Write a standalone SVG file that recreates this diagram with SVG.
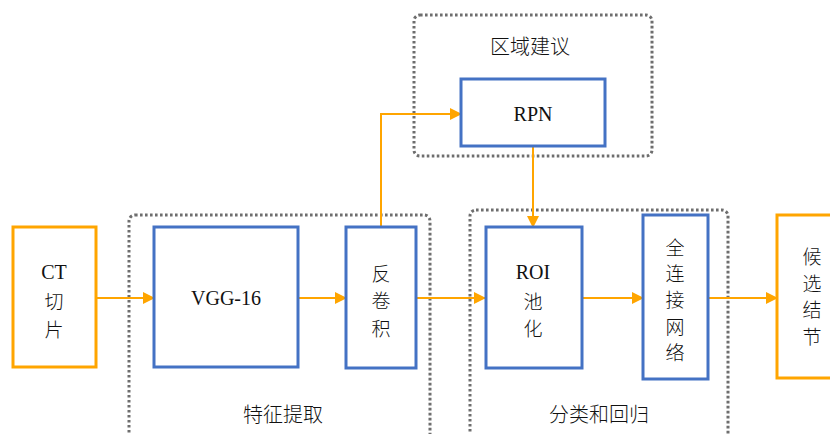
<svg xmlns="http://www.w3.org/2000/svg" width="830" height="434" viewBox="0 0 830 434">
<style>
.grp{fill:none;stroke:#6e6e6e;stroke-width:3;stroke-dasharray:2.6 2.4}
.blue{fill:#fff;stroke:#4472C4;stroke-width:3}
.orange{fill:#fff;stroke:#FFA500;stroke-width:3}
.t{font-family:"Liberation Serif","Noto Sans CJK SC",serif;font-size:20px;fill:#111;text-anchor:middle;dominant-baseline:central}
.c{font-family:"Noto Sans CJK SC","Liberation Serif",sans-serif;font-size:19px;font-weight:300;fill:#111;text-anchor:middle;dominant-baseline:central}
.g{font-size:20px}
.con{fill:none;stroke:#FFA500;stroke-width:2}
</style>
<defs>
<marker id="ah" markerWidth="12" markerHeight="12" refX="11" refY="6" orient="auto" markerUnits="userSpaceOnUse">
<path d="M0,0 L12,6 L0,12 Z" fill="#FFA500"/>
</marker>
</defs>
<g id="group-feature">
<rect class="grp" x="129" y="215" width="301" height="240" rx="6"/>
<text class="c g" x="283" y="413">特征提取</text>
</g>
<g id="group-region">
<rect class="grp" x="414" y="15" width="238" height="141" rx="6"/>
<text class="c g" x="530" y="45">区域建议</text>
</g>
<g id="group-cls">
<rect class="grp" x="470" y="210" width="258" height="245" rx="6"/>
<text class="c g" x="599" y="413">分类和回归</text>
</g>
<g id="connectors">
<line class="con" x1="97" y1="298" x2="154" y2="298" marker-end="url(#ah)"/>
<line class="con" x1="298" y1="298" x2="346" y2="298" marker-end="url(#ah)"/>
<line class="con" x1="417" y1="298" x2="485" y2="298" marker-end="url(#ah)"/>
<line class="con" x1="583" y1="298" x2="643" y2="298" marker-end="url(#ah)"/>
<line class="con" x1="709" y1="298" x2="777" y2="298" marker-end="url(#ah)"/>
<polyline class="con" points="381,227 381,114 461,114" marker-end="url(#ah)"/>
<line class="con" x1="533" y1="147" x2="533" y2="227" marker-end="url(#ah)"/>
</g>
<g id="node-ct">
<rect class="orange" x="13" y="227" width="83" height="140"/>
<text class="t" x="54" y="272">CT</text>
<text class="c" x="54" y="300">切</text>
<text class="c" x="54" y="328">片</text>
</g>
<g id="node-vgg">
<rect class="blue" x="154" y="227" width="144" height="140"/>
<text class="t" x="226" y="298">VGG-16</text>
</g>
<g id="node-deconv">
<rect class="blue" x="346" y="227" width="70" height="141"/>
<text class="c" x="381" y="272">反</text>
<text class="c" x="381" y="299">卷</text>
<text class="c" x="381" y="327">积</text>
</g>
<g id="node-rpn">
<rect class="blue" x="461" y="79" width="144" height="67"/>
<text class="t" x="533" y="114">RPN</text>
</g>
<g id="node-roi">
<rect class="blue" x="486" y="227" width="96" height="141"/>
<text class="t" x="533" y="272">ROI</text>
<text class="c" x="533" y="300">池</text>
<text class="c" x="533" y="327">化</text>
</g>
<g id="node-fc">
<rect class="blue" x="643" y="215" width="65" height="164"/>
<text class="c" x="675" y="246">全</text>
<text class="c" x="675" y="272">连</text>
<text class="c" x="675" y="298">接</text>
<text class="c" x="675" y="325">网</text>
<text class="c" x="675" y="351">络</text>
</g>
<g id="node-out">
<rect class="orange" x="777" y="215" width="70" height="163"/>
<text class="c" x="812" y="255">候</text>
<text class="c" x="812" y="282">选</text>
<text class="c" x="812" y="308">结</text>
<text class="c" x="812" y="335">节</text>
</g>
</svg>
